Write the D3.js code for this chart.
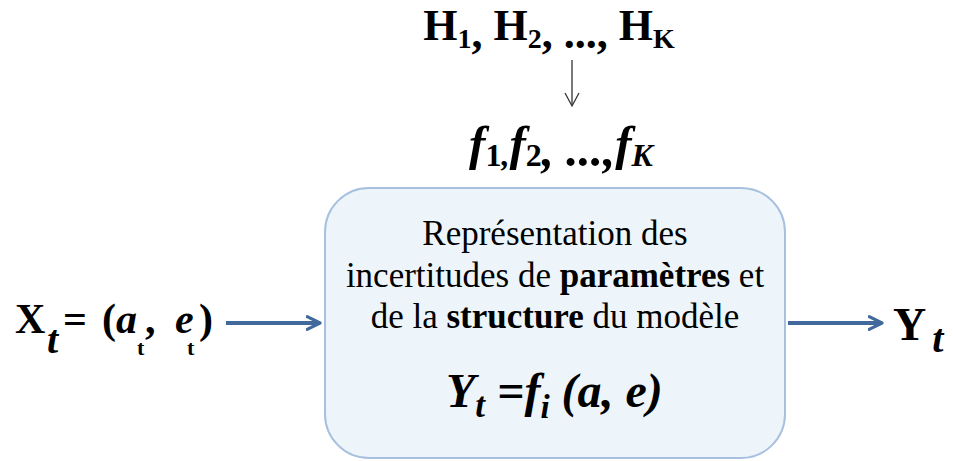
<!DOCTYPE html>
<html>
<head>
<meta charset="UTF-8">
<title>Incertitudes du modèle</title>
<script src="https://cdn.jsdelivr.net/npm/d3@7/dist/d3.min.js"></script>
<style>
  body { margin: 0; background: #fff; }
</style>
</head>
<body>
<svg id="diagram"></svg>
<script>
// hypotheses and the model family they give
const hypotheses = ["1", "2", "K"];
const models = ["1", "2", "K"];
// text lines inside the box: [text, bold]
const boxLines = [
  [["Représentation des", false]],
  [["incertitudes de ", false], ["paramètres", true], [" et", false]],
  [["de la ", false], ["structure", true], [" du modèle", false]]
];
// input formula pieces: [text, x, dy, size, italic]
const inputParts = [
  ["X", 15, 0, 42, false],
  ["t", 47, 20, 40, true],
  ["=", 63, 0, 42, false],
  ["(", 102, 0, 42, false],
  ["a", 116, 0, 42, true],
  ["t", 137, 22, 22, false],
  [",", 145, 0, 42, false],
  ["e", 175, 0, 42, true],
  ["t", 187, 22, 22, false],
  [")", 199, 0, 42, false]
];

const width = 953, height = 461;
const serif = "'Liberation Serif', 'Times New Roman', Times, 'DejaVu Serif', serif";
const svg = d3.select("#diagram")
  .attr("width", width).attr("height", height)
  .attr("font-family", serif)
  .style("font-family", serif);

const blue = "#41699b";

// box
const box = { x: 325, y: 188, w: 460, h: 270, r: 44 };
svg.append("rect")
  .attr("x", box.x).attr("y", box.y)
  .attr("width", box.w).attr("height", box.h)
  .attr("rx", box.r).attr("ry", box.r)
  .attr("fill", "#edf5fa")
  .attr("stroke", "#a8c0df")
  .attr("stroke-width", 2);

// markers
const defs = svg.append("defs");
defs.append("marker")
  .attr("id", "thick")
  .attr("viewBox", "0 0 10 10")
  .attr("refX", 9).attr("refY", 5)
  .attr("markerWidth", 4).attr("markerHeight", 5)
  .attr("markerUnits", "strokeWidth")
  .attr("orient", "auto")
  .append("path")
  .attr("d", "M1,1 L9,5 L1,9")
  .attr("fill", "none")
  .attr("stroke", blue)
  .attr("stroke-width", 2)
  .attr("stroke-linecap", "round")
  .attr("stroke-linejoin", "round");

// horizontal arrows
[[226, 322], [788, 884]].forEach(([x1, x2]) => {
  svg.append("line")
    .attr("x1", x1).attr("x2", x2 - 2)
    .attr("y1", 323).attr("y2", 323)
    .attr("stroke", blue)
    .attr("stroke-width", 4)
    .attr("marker-end", "url(#thick)");
});

// thin down arrow
svg.append("line")
  .attr("x1", 572).attr("x2", 572)
  .attr("y1", 60).attr("y2", 105)
  .attr("stroke", "#333").attr("stroke-width", 1.3);
svg.append("path")
  .attr("d", "M565,93 L572,106 L579,93")
  .attr("fill", "none").attr("stroke", "#333").attr("stroke-width", 1.3);

// H1, H2, ..., HK
const hText = svg.append("text")
  .attr("x", 549).attr("y", 40)
  .attr("text-anchor", "middle")
  .attr("font-weight", "bold")
  .attr("font-size", 44);
hypotheses.forEach((s, i) => {
  hText.append("tspan").attr("dy", i === 0 ? 0 : -8).text("H");
  hText.append("tspan").attr("font-size", 28).attr("dy", 8).text(s);
  if (i < 2) hText.append("tspan").text(", ");
  if (i === 1) hText.append("tspan").text("..., ");
});

// f1,f2, ..., fK
const fText = svg.append("text")
  .attr("x", 561).attr("y", 160)
  .attr("text-anchor", "middle")
  .attr("font-weight", "bold")
  .attr("font-style", "italic")
  .attr("font-size", 49);
models.forEach((s, i) => {
  fText.append("tspan").attr("dy", i === 0 ? 0 : -6).text("f");
  fText.append("tspan").attr("font-size", 32).attr("font-style", i === 2 ? "italic" : "normal").attr("dy", 6).text(s);
  if (i === 0) fText.append("tspan").attr("font-size", 32).text(",");
  if (i === 1) fText.append("tspan").text(", ...,");
});

// box text lines
boxLines.forEach((line, i) => {
  const t = svg.append("text")
    .attr("x", 555).attr("y", 245 + i * 41.5)
    .attr("text-anchor", "middle")
    .attr("font-size", 35);
  line.forEach(([s, b]) => {
    t.append("tspan").attr("font-weight", b ? "bold" : "normal").text(s);
  });
});

// Yt = fi (a, e)
const yEq = svg.append("text")
  .attr("x", 446).attr("y", 407)
  .attr("font-weight", "bold").attr("font-style", "italic")
  .attr("font-size", 48);
yEq.append("tspan").text("Y");
yEq.append("tspan").attr("font-size", 35).attr("dy", 10).text("t");
yEq.append("tspan").attr("dy", -10).text(" =f");
yEq.append("tspan").attr("font-size", 33).attr("dy", 11).text("i");
yEq.append("tspan").attr("dy", -11).text("  (a, e)");

// Xt = (at, et)
svg.append("g")
  .selectAll("text")
  .data(inputParts)
  .join("text")
  .attr("x", d => d[1])
  .attr("y", d => 333 + d[2])
  .attr("font-size", d => d[3])
  .attr("font-weight", "bold")
  .attr("font-style", d => d[4] ? "italic" : "normal")
  .text(d => d[0]);

// Yt output
const yOut = svg.append("text")
  .attr("x", 893).attr("y", 340)
  .attr("font-weight", "bold")
  .attr("font-size", 46);
yOut.append("tspan").text("Y");
yOut.append("tspan").attr("font-style", "italic").attr("font-size", 40).attr("dx", 6).attr("dy", 12).text("t");
</script>
</body>
</html>
